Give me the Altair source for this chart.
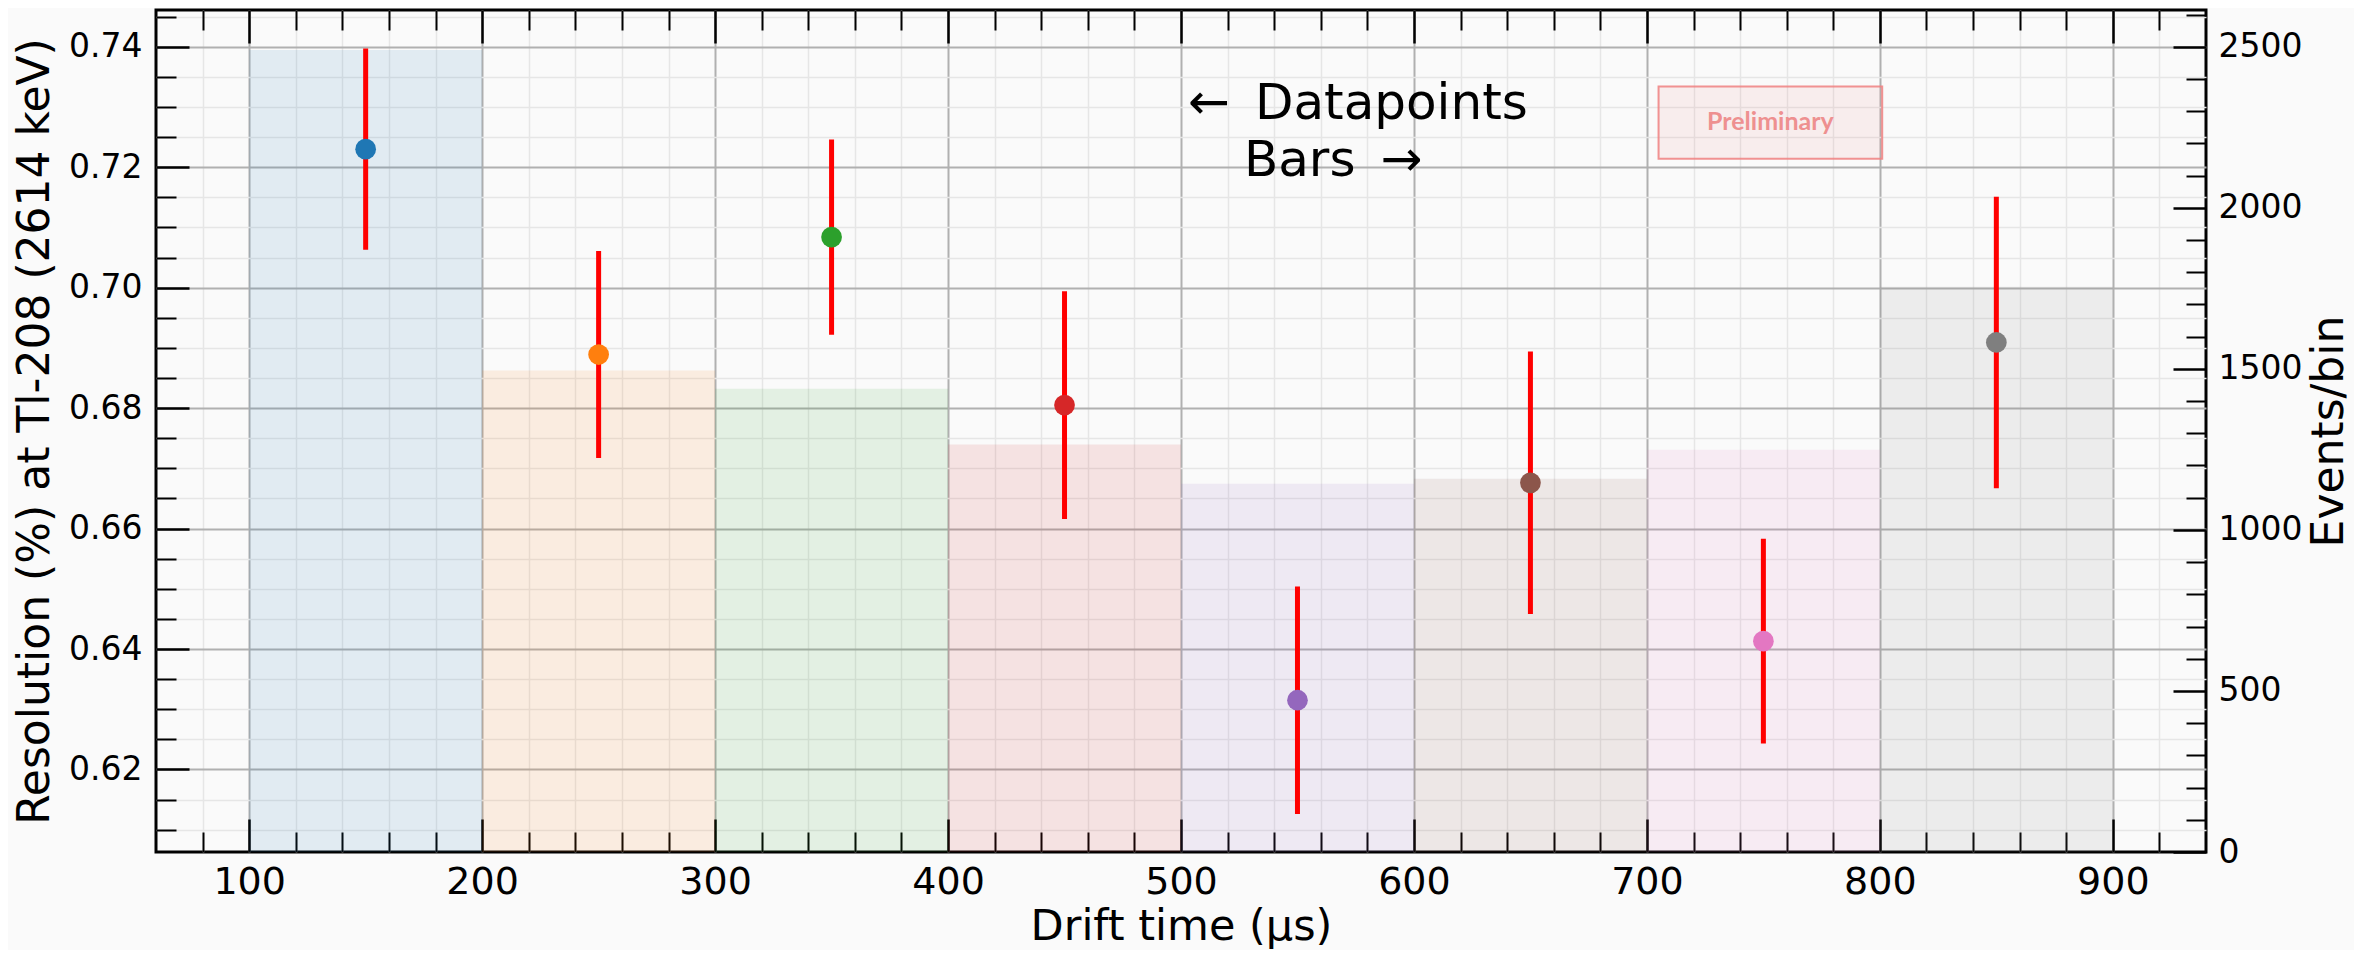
import altair as alt
import pandas as pd

# ---------------- data ----------------
bin_lo = [100, 200, 300, 400, 500, 600, 700, 800]
bin_hi = [200, 300, 400, 500, 600, 700, 800, 900]
events_per_bin = [2490, 1495, 1438, 1265, 1143, 1159, 1249, 1755]
drift_mid = [150, 250, 350, 450, 550, 650, 750, 850]
resolution = [0.7230, 0.6889, 0.7084, 0.6805, 0.6315, 0.6676, 0.6413, 0.6909]
res_err = [0.0167, 0.0172, 0.0162, 0.0189, 0.0189, 0.0218, 0.0170, 0.0242]
bin_names = ["b1", "b2", "b3", "b4", "b5", "b6", "b7", "b8"]
palette = ["#1f77b4", "#ff7f0e", "#2ca02c", "#d62728",
           "#9467bd", "#8c564b", "#e377c2", "#7f7f7f"]

x_major = [100, 200, 300, 400, 500, 600, 700, 800, 900]
x_minor = [v for v in range(80, 940, 20) if v % 100 != 0]
y_major = [0.62, 0.64, 0.66, 0.68, 0.70, 0.72, 0.74]
y_minor = [t / 1000 for t in range(610, 746, 5) if t % 20 != 0]
r_major = [0, 500, 1000, 1500, 2000, 2500]
r_minor = [v for v in range(100, 2601, 100) if v % 500 != 0]

x_domain = [60, 940]
y_domain = [0.6063, 0.7461]
r_domain = [0, 2614]

# annotation texts (data coordinates)
note_text = ["\u2190\u2002Datapoints", "Bars\u2002\u2192"]
note_x = [503, 527]
note_y = [0.7280, 0.7185]
prelim_box = dict(x=705, x2=801, y=0.73339, y2=0.72141)
prelim_pos = dict(x=753, y=0.7261)

bins_df = pd.DataFrame({"lo": bin_lo, "hi": bin_hi, "events": events_per_bin, "name": bin_names})
pts_df = pd.DataFrame({
    "mid": drift_mid, "res": resolution, "name": bin_names,
    "elo": [r - e for r, e in zip(resolution, res_err)],
    "ehi": [r + e for r, e in zip(resolution, res_err)],
})
note_df = pd.DataFrame({"x": note_x, "y": note_y, "t": note_text})
box_df = pd.DataFrame([prelim_box])
prelim_df = pd.DataFrame([dict(prelim_pos, t="Preliminary")])

xs = alt.Scale(domain=x_domain, nice=False, zero=False)
yl = alt.Scale(domain=y_domain, nice=False, zero=False)
yr = alt.Scale(domain=r_domain, nice=False, zero=False)
cscale = alt.Scale(domain=bin_names, range=palette)

FONT = "DejaVu Sans"
MAJOR_GRID = "#b0b0b0"
MINOR_GRID = "#e6e6e6"

base_ax = dict(domain=False, tickColor="black", labelColor="black", labelFont=FONT,
               titleFont=FONT, titleColor="black", titleFontWeight="normal",
               labelFlush=False, labelOverlap=False)


def major_axis(orient, values, labels=True, grid=False, **kw):
    d = dict(base_ax)
    d.update(orient=orient, values=values, tickSize=33, offset=-33, tickWidth=2.5,
             labels=labels, grid=grid)
    if grid:
        d.update(gridColor=MAJOR_GRID, gridWidth=2)
    d.update(kw)
    return alt.Axis(**d)


def minor_axis(orient, values, grid=False):
    d = dict(base_ax)
    d.update(orient=orient, values=values, tickSize=20, offset=-20, tickWidth=2,
             labels=False, grid=grid, title=None)
    if grid:
        d.update(gridColor=MINOR_GRID, gridWidth=1.5)
    return alt.Axis(**d)


bars = alt.Chart(bins_df).mark_rect(opacity=0.11).encode(
    x=alt.X("lo:Q", scale=xs, axis=major_axis(
        "bottom", x_major, grid=True, format="d", labelFontSize=38, labelPadding=11,
        title="Drift time (\u03bcs)", titleFontSize=43, titlePadding=4)),
    x2="hi:Q",
    y=alt.Y("events:Q", scale=yr, axis=major_axis(
        "right", r_major, format="d", labelFontSize=33, labelPadding=12,
        title="Events/bin", titleFontSize=44, titleAngle=270, titleBaseline="top",
        titlePadding=6)),
    y2=alt.datum(0),
    color=alt.Color("name:N", scale=cscale, legend=None),
)

bars_minor = alt.Chart(bins_df).mark_rect(opacity=0).encode(
    x=alt.X("lo:Q", scale=xs, axis=minor_axis("bottom", x_minor, grid=True)),
    x2="hi:Q",
    y=alt.Y("events:Q", scale=yr, axis=minor_axis("right", r_minor)),
    y2=alt.datum(0),
)

errbars = alt.Chart(pts_df).mark_rule(color="#ff0000", strokeWidth=5).encode(
    x=alt.X("mid:Q", scale=xs, axis=major_axis("top", x_major, labels=False, title=None)),
    y=alt.Y("elo:Q", scale=yl, axis=major_axis(
        "left", y_major, grid=True, format=".2f", labelFontSize=33, labelPadding=14,
        title="Resolution (%) at Tl-208 (2614 keV)", titleFontSize=44,
        titleAngle=270, titleBaseline="bottom", titlePadding=11)),
    y2="ehi:Q",
)

points = alt.Chart(pts_df).mark_circle(size=430, opacity=1).encode(
    x=alt.X("mid:Q", scale=xs, axis=minor_axis("top", x_minor)),
    y=alt.Y("res:Q", scale=yl, axis=minor_axis("left", y_minor, grid=True)),
    color=alt.Color("name:N", scale=cscale, legend=None),
)

notes = alt.Chart(note_df).mark_text(
    align="left", baseline="alphabetic", font=FONT, fontSize=50, color="black"
).encode(
    x=alt.X("x:Q", scale=xs, axis=None),
    y=alt.Y("y:Q", scale=yl, axis=None),
    text="t:N",
)

box = alt.Chart(box_df).mark_rect(
    fill="#f08080", fillOpacity=0.1, stroke="#f08080", strokeOpacity=0.85, strokeWidth=2
).encode(
    x=alt.X("x:Q", scale=xs, axis=None), x2="x2:Q",
    y=alt.Y("y:Q", scale=yl, axis=None), y2="y2:Q",
)

prelim = alt.Chart(prelim_df).mark_text(
    align="center", baseline="alphabetic", font="Lato", fontWeight="bold",
    fontSize=25, color="#ee9090"
).encode(
    x=alt.X("x:Q", scale=xs, axis=None),
    y=alt.Y("y:Q", scale=yl, axis=None),
    text="t:N",
)

chart = alt.layer(bars, bars_minor, errbars, points, notes, box, prelim).resolve_scale(
    y="independent"
).resolve_axis(
    x="independent", y="independent"
).properties(
    width=2050, height=842,
    autosize=alt.AutoSizeParams(type="none"),
    padding={"left": 148, "top": 2, "right": 148, "bottom": 98},
).configure(
    background="#fafafa"
).configure_view(
    stroke="black", strokeWidth=3
)

chart.save("out.html", embed_options={"renderer": "svg", "actions": False})
